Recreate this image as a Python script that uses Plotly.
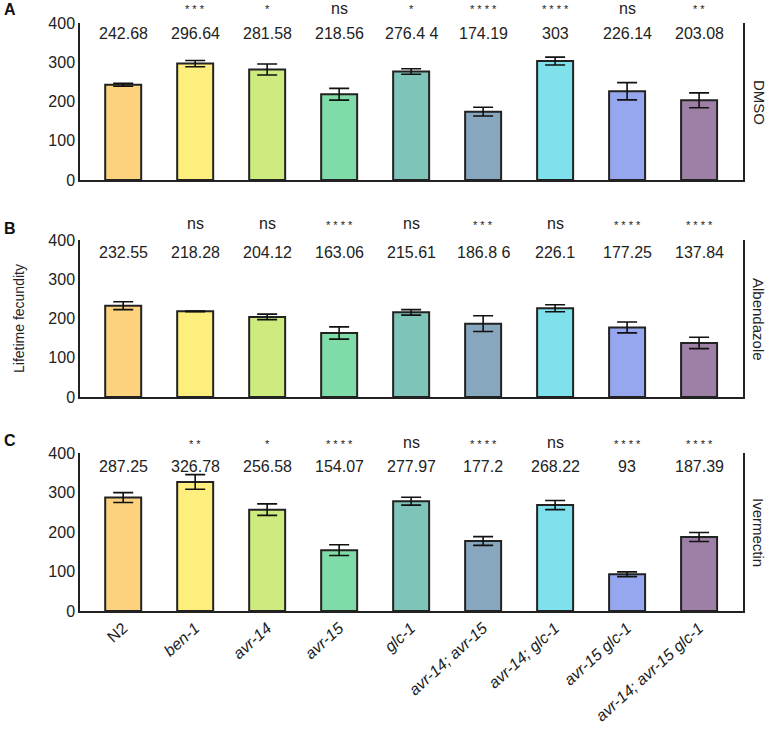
import plotly.graph_objects as go
from plotly.subplots import make_subplots

strains = ["N2", "ben-1", "avr-14", "avr-15", "glc-1", "avr-14; avr-15",
           "avr-14; glc-1", "avr-15 glc-1", "avr-14; avr-15 glc-1"]
tick_labels = ["N2", "<i>ben-1</i>", "<i>avr-14</i>", "<i>avr-15</i>", "<i>glc-1</i>",
               "<i>avr-14; avr-15</i>", "<i>avr-14; glc-1</i>", "<i>avr-15 glc-1</i>",
               "<i>avr-14; avr-15 glc-1</i>"]
colors = ["#FDD27F", "#FDEE7E", "#CDEB7F", "#7FDBA7", "#7FC4B8", "#87A7BE",
          "#7FE1EC", "#97A7EF", "#9E80A6"]

conditions = ["DMSO", "Albendazole", "Ivermectin"]
panel_letters = ["A", "B", "C"]

dmso_mean = [242.68, 296.64, 281.58, 218.56, 276.44, 174.19, 303, 226.14, 203.08]
dmso_se = [4, 8, 14, 15, 7, 11, 10, 22, 19]
dmso_sig = ["", "***", "*", "ns", "*", "****", "****", "ns", "**"]
dmso_lab = ["242.68", "296.64", "281.58", "218.56", "276.4 4", "174.19", "303", "226.14", "203.08"]

alb_mean = [232.55, 218.28, 204.12, 163.06, 215.61, 186.86, 226.1, 177.25, 137.84]
alb_se = [10, 1, 7, 15.5, 7, 20, 9, 14, 14.5]
alb_sig = ["", "ns", "ns", "****", "ns", "***", "ns", "****", "****"]
alb_lab = ["232.55", "218.28", "204.12", "163.06", "215.61", "186.8 6", "226.1", "177.25", "137.84"]

ive_mean = [287.25, 326.78, 256.58, 154.07, 277.97, 177.2, 268.22, 93, 187.39]
ive_se = [12.5, 18.5, 14.5, 13.5, 10, 11, 11.5, 6, 11.5]
ive_sig = ["", "**", "*", "****", "ns", "****", "ns", "****", "****"]
ive_lab = ["287.25", "326.78", "256.58", "154.07", "277.97", "177.2", "268.22", "93", "187.39"]

means = [dmso_mean, alb_mean, ive_mean]
ses = [dmso_se, alb_se, ive_se]
sigs = [dmso_sig, alb_sig, ive_sig]
labs = [dmso_lab, alb_lab, ive_lab]

FONT = "Liberation Sans, Arial, sans-serif"
YMAX = 400

# figure geometry (page body margin removed below, so figure pixels = screen pixels)
W, H = 768, 742
ML, MR, MT, MB = 80, 25, 23, 131
PW, PH = W - ML - MR, H - MT - MB


def px_x(x):
    return (x - ML) / PW


def px_y(y):
    return 1 - (y - MT) / PH


fig = make_subplots(rows=3, cols=1, shared_xaxes=False)
domains = [[px_y(180), px_y(23)], [px_y(397), px_y(240)], [px_y(611), px_y(453)]]
val_y = [374, 367, 365]
sig_y = [438, 441, 427]
right_y = [px_y(102), px_y(319), px_y(532)]
letter_y = [px_y(10), px_y(228), px_y(440)]

for r in range(3):
    fig.add_trace(go.Bar(
        x=strains, y=means[r],
        marker=dict(color=colors, line=dict(color="#222222", width=2)),
        width=0.5,
        error_y=dict(type="data", array=ses[r], color="#111111", thickness=1.6, width=10),
        showlegend=False,
    ), row=r + 1, col=1)
    xa = "xaxis" if r == 0 else f"xaxis{r+1}"
    ya = "yaxis" if r == 0 else f"yaxis{r+1}"
    yref = "y" if r == 0 else f"y{r+1}"
    xref = "x" if r == 0 else f"x{r+1}"
    fig.layout[xa].update(
        range=[-0.6, 8.61], showline=True, linecolor="#222222", linewidth=1.5,
        showgrid=False, zeroline=False, ticks="", automargin=False,
        showticklabels=(r == 2), tickangle=-42,
        tickvals=strains, ticktext=tick_labels,
        tickfont=dict(family=FONT, size=16, color="#222222"),
    )
    fig.layout[ya].update(
        domain=domains[r], range=[0, YMAX], showline=True, mirror=True,
        linecolor="#222222", linewidth=1.5, showgrid=False, zeroline=False,
        ticks="", tickvals=[0, 100, 200, 300, 400], automargin=False,
        tickfont=dict(family=FONT, size=16, color="#222222"),
    )
    for i, s in enumerate(strains):
        fig.add_annotation(x=s, y=val_y[r] / YMAX, xref=xref, yref=yref + " domain",
                           text=labs[r][i], showarrow=False,
                           xanchor="center", yanchor="middle",
                           font=dict(family=FONT, size=16, color="#222222"))
        if sigs[r][i]:
            if sigs[r][i] == "ns":
                fig.add_annotation(x=s, y=sig_y[r] / YMAX, xref=xref, yref=yref + " domain",
                                   text="ns", showarrow=False,
                                   xanchor="center", yanchor="middle",
                                   font=dict(family=FONT, size=16, color="#222222"))
            else:
                fig.add_annotation(x=s, y=(sig_y[r] - 3) / YMAX, xref=xref, yref=yref + " domain",
                                   text=" ".join(sigs[r][i]), showarrow=False,
                                   xanchor="center", yanchor="middle",
                                   font=dict(family=FONT, size=11, color="#222222"))
    fig.add_annotation(x=px_x(759), y=right_y[r], xref="paper", yref="paper", text=conditions[r],
                       textangle=90, showarrow=False, xanchor="center", yanchor="middle",
                       font=dict(family=FONT, size=15, color="#222222"))
    fig.add_annotation(x=px_x(2), y=letter_y[r], xref="paper", yref="paper",
                       text="<b>" + panel_letters[r] + "</b>", xanchor="left", yanchor="middle",
                       showarrow=False, font=dict(family=FONT, size=16, color="#111111"))

fig.add_annotation(x=px_x(19), y=px_y(318), xref="paper", yref="paper", text="Lifetime fecundity",
                   textangle=-90, showarrow=False, xanchor="center", yanchor="middle",
                   font=dict(family=FONT, size=14, color="#222222"))

fig.update_layout(
    width=W, height=H,
    margin=dict(l=ML, r=MR, t=MT, b=MB),
    paper_bgcolor="white", plot_bgcolor="white",
    bargap=0.5,
)

fig.write_html("out.html", config={"displayModeBar": False},
               post_script="document.body.style.margin='0px';document.body.style.overflow='hidden';")
